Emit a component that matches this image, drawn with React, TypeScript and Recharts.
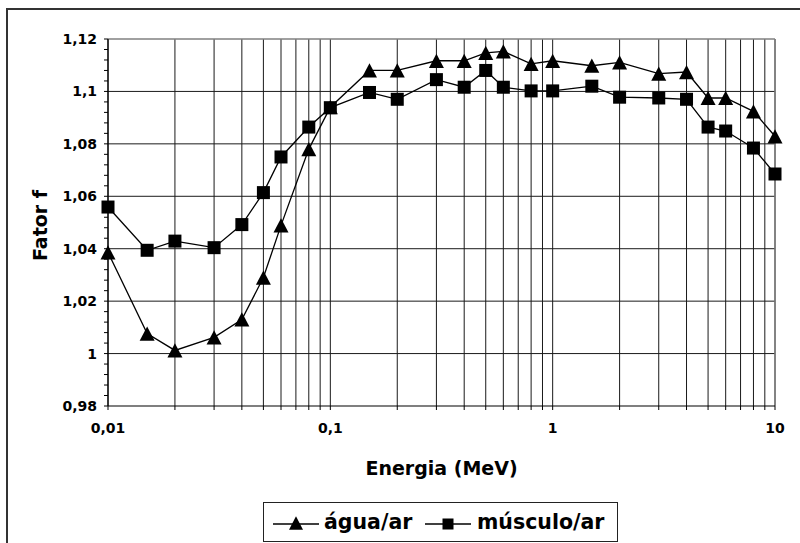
// Fator f vs energia - água/ar e músculo/ar (escala log)
import React from 'react';
import {
  LineChart,
  Line,
  XAxis,
  YAxis,
  CartesianGrid,
  ReferenceLine,
} from 'recharts';

const energias = [0.01, 0.015, 0.02, 0.03, 0.04, 0.05, 0.06, 0.08, 0.1, 0.15, 0.2, 0.3, 0.4, 0.5, 0.6, 0.8, 1, 1.5, 2, 3, 4, 5, 6, 8, 10];
const aguaAr = [1.0386, 1.0076, 1.0012, 1.0062, 1.013, 1.029, 1.0489, 1.078, 1.094, 1.108, 1.108, 1.1117, 1.1117, 1.1147, 1.1153, 1.1105, 1.1117, 1.1098, 1.1111, 1.1068, 1.1074, 1.0975, 1.0975, 1.0924, 1.0829];
const musculoAr = [1.0559, 1.0394, 1.0429, 1.0404, 1.0492, 1.0614, 1.075, 1.0864, 1.0938, 1.0996, 1.097, 1.1045, 1.1016, 1.108, 1.1016, 1.1002, 1.1002, 1.102, 1.0978, 1.0975, 1.097, 1.0864, 1.0849, 1.0784, 1.0685];

const xTicks = [0.01, 0.02, 0.03, 0.04, 0.05, 0.06, 0.07, 0.08, 0.09, 0.1, 0.2, 0.3, 0.4, 0.5, 0.6, 0.7, 0.8, 0.9, 1, 2, 3, 4, 5, 6, 7, 8, 9, 10];
const xLabels = [0.01, 0.1, 1, 10];
const yMajor = [0.98, 1, 1.02, 1.04, 1.06, 1.08, 1.1, 1.12];
const yMinor = [0.984, 0.988, 0.992, 0.996, 1.004, 1.008, 1.012, 1.016, 1.024, 1.028, 1.032, 1.036, 1.044, 1.048, 1.052, 1.056, 1.064, 1.068, 1.072, 1.076, 1.084, 1.088, 1.092, 1.096, 1.104, 1.108, 1.112, 1.116];

const data = energias.map((e, i) => ({ e, agua: aguaAr[i], musculo: musculoAr[i] }));
const yTicks = [...yMajor, ...yMinor].sort((a, b) => a - b);

const FONT = '"DejaVu Sans", Verdana, sans-serif';
const fmt = (v: number) => String(v).replace('.', ',');

function Triangle({ cx, cy, size = 15 }: { cx: number; cy: number; size?: number }) {
  const h = size * 0.95;
  return (
    <path
      d={`M${cx},${cy - h / 2} L${cx + size / 2},${cy + h / 2} L${cx - size / 2},${cy + h / 2} Z`}
      fill="#000"
    />
  );
}

function Square({ cx, cy, size = 13 }: { cx: number; cy: number; size?: number }) {
  return <rect x={cx - size / 2} y={cy - size / 2} width={size} height={size} fill="#000" />;
}

const triangleDot = (p: any) => (
  <g key={`t-${p.index}`}>
    <Triangle cx={p.cx} cy={p.cy} />
  </g>
);
const squareDot = (p: any) => (
  <g key={`s-${p.index}`}>
    <Square cx={p.cx} cy={p.cy} />
  </g>
);

function YTick({ x, y, payload }: any) {
  if (!yMajor.some((v) => Math.abs(v - payload.value) < 1e-9)) return <g />;
  return (
    <text x={x} y={y} dy="0.36em" textAnchor="end" fontFamily={FONT} fontWeight="bold" fontSize={14} fill="#000">
      {fmt(payload.value)}
    </text>
  );
}

function XTick({ x, y, payload }: any) {
  if (!xLabels.some((v) => Math.abs(v - payload.value) < 1e-9)) return <g />;
  return (
    <text x={x} y={y} dy="0.73em" textAnchor="middle" fontFamily={FONT} fontWeight="bold" fontSize={14} fill="#000">
      {fmt(payload.value)}
    </text>
  );
}

function Legenda() {
  const txt: React.CSSProperties = {
    position: 'absolute',
    top: 0,
    height: 38,
    lineHeight: '38px',
    fontFamily: FONT,
    fontWeight: 'bold',
    fontSize: 20.5,
    color: '#000',
    whiteSpace: 'nowrap',
  };
  return (
    <div
      style={{
        position: 'absolute',
        left: 263,
        top: 502,
        width: 355,
        height: 40,
        boxSizing: 'border-box',
        border: '1px solid #222',
        background: '#fff',
      }}
    >
      <svg width={46} height={20} style={{ position: 'absolute', left: 9, top: 10 }}>
        <line x1={0} y1={11} x2={46} y2={11} stroke="#000" strokeWidth={1.3} />
        <Triangle cx={23} cy={10} size={14} />
      </svg>
      <span style={{ ...txt, left: 60 }}>água/ar</span>
      <svg width={46} height={20} style={{ position: 'absolute', left: 161, top: 10 }}>
        <line x1={0} y1={11} x2={46} y2={11} stroke="#000" strokeWidth={1.3} />
        <Square cx={23} cy={11} size={11} />
      </svg>
      <span style={{ ...txt, left: 213 }}>músculo/ar</span>
    </div>
  );
}

export default function App() {
  return (
    <div style={{ position: 'absolute', left: 0, top: 0, width: 800, height: 543, background: '#fff', overflow: 'hidden' }}>
      <div
        style={{
          position: 'absolute',
          left: 6,
          top: 8,
          width: 794,
          height: 535,
          boxSizing: 'border-box',
          borderLeft: '2px solid #333',
          borderTop: '2px solid #333',
        }}
      />
      <div style={{ position: 'absolute', left: 0, top: 0 }}>
        <LineChart width={800} height={543} data={data} margin={{ top: 39, right: 25, left: 0, bottom: 107 }}>
          <CartesianGrid horizontal={false} vertical={true} stroke="#1a1a1a" strokeWidth={1} />
          {yMajor.slice(1, -1).map((v) => (
            <ReferenceLine key={v} y={v} stroke="#1a1a1a" strokeWidth={1} />
          ))}
          <ReferenceLine y={1.12} stroke="#808080" strokeWidth={1.5} />
          <ReferenceLine x={10} stroke="#808080" strokeWidth={1.5} />
          <XAxis
            dataKey="e"
            type="number"
            scale="log"
            domain={[0.01, 10]}
            ticks={xTicks}
            interval={0}
            height={30}
            tickSize={4}
            tickMargin={13}
            tick={<XTick />}
            axisLine={{ stroke: '#000', strokeWidth: 1.2 }}
            tickLine={{ stroke: '#000' }}
            label={{
              content: ({ viewBox }: any) => (
                <text
                  x={viewBox.x + viewBox.width / 2}
                  y={475}
                  textAnchor="middle"
                  fontFamily={FONT}
                  fontWeight="bold"
                  fontSize={19}
                  fill="#000"
                >
                  Energia (MeV)
                </text>
              ),
            }}
          />
          <YAxis
            type="number"
            domain={[0.98, 1.12]}
            ticks={yTicks}
            interval={0}
            width={108}
            tickSize={4}
            tickMargin={7}
            tick={<YTick />}
            axisLine={{ stroke: '#000', strokeWidth: 1.2 }}
            tickLine={{ stroke: '#000' }}
            label={{
              content: ({ viewBox }: any) => (
                <text
                  x={47}
                  y={viewBox.y + viewBox.height / 2 + 3}
                  transform={`rotate(-90 47 ${viewBox.y + viewBox.height / 2 + 3})`}
                  textAnchor="middle"
                  fontFamily={FONT}
                  fontWeight="bold"
                  fontSize={19}
                  fill="#000"
                >
                  Fator f
                </text>
              ),
            }}
          />
          <Line
            dataKey="agua"
            type="linear"
            stroke="#000"
            strokeWidth={1.3}
            dot={triangleDot}
            activeDot={false}
            isAnimationActive={false}
          />
          <Line
            dataKey="musculo"
            type="linear"
            stroke="#000"
            strokeWidth={1.3}
            dot={squareDot}
            activeDot={false}
            isAnimationActive={false}
          />
        </LineChart>
      </div>
      <Legenda />
    </div>
  );
}
